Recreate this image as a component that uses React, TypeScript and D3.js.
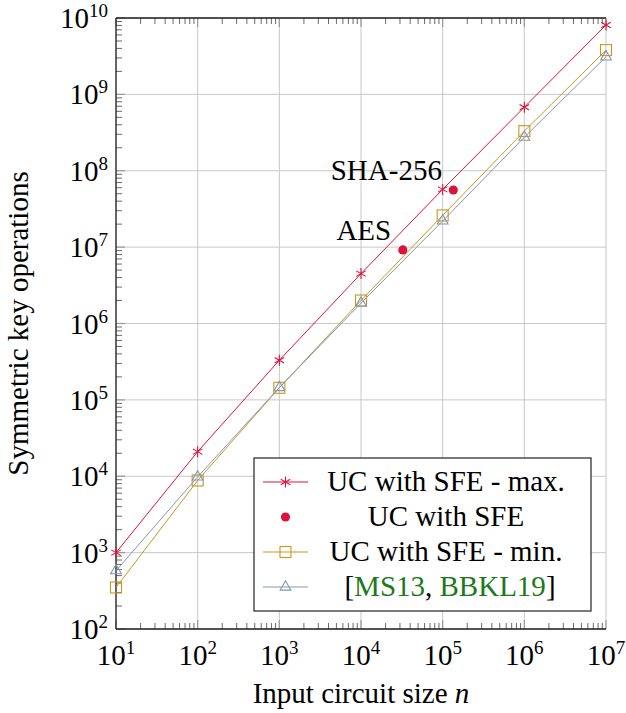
import React from "react";
import * as d3 from "d3";

const sizes = [1e1, 1e2, 1e3, 1e4, 1e5, 1e6, 1e7];
const maxOps = [1.0e3, 2.1e4, 3.3e5, 4.5e6, 5.7e7, 6.8e8, 8.1e9];
const minOps = [3.5e2, 8.8e3, 1.44e5, 2.0e6, 2.6e7, 3.3e8, 3.8e9];
const refOps = [5.8e2, 9.8e3, 1.45e5, 1.85e6, 2.2e7, 2.75e8, 3.1e9];
const sfeNames = ["AES", "SHA-256"];
const sfeSizes = [3.25e4, 1.35e5];
const sfeOps = [9.2e6, 5.6e7];
const xTickExps = [1, 2, 3, 4, 5, 6, 7];
const yTickExps = [2, 3, 4, 5, 6, 7, 8, 9, 10];

const RED = "#DC143C";
const ORANGE = "#C9971F";
const BLUE = "#8797AE";
const GREEN = "#1B7A1B";
const FONT = "Liberation Serif, serif";

const L = 116, R = 606, T = 18, B = 629;

function starPath(cx: number, cy: number, r: number) {
  let d = "";
  for (let i = 0; i < 3; i++) {
    const a = (Math.PI / 3) * i + Math.PI / 2;
    d += `M${cx + r * Math.cos(a)},${cy - r * Math.sin(a)}L${cx - r * Math.cos(a)},${cy + r * Math.sin(a)}`;
  }
  return d;
}

function Marker({ kind, x, y }: { kind: string; x: number; y: number }) {
  if (kind === "star") return <path d={starPath(x, y, 5.5)} stroke={RED} strokeWidth={1.1} fill="none" />;
  if (kind === "square")
    return <rect x={x - 5.5} y={y - 5.5} width={11} height={11} fill="none" stroke={ORANGE} strokeWidth={1.1} />;
  if (kind === "tri") {
    const r = 6.2;
    return (
      <path
        d={`M${x},${y - r}L${x + r * 0.87},${y + r * 0.5}L${x - r * 0.87},${y + r * 0.5}Z`}
        fill="none"
        stroke={BLUE}
        strokeWidth={1.1}
      />
    );
  }
  return <circle cx={x} cy={y} r={4.6} fill={RED} />;
}

function Pow({ x, y, exp, anchor }: { x: number; y: number; exp: number; anchor: "start" | "middle" | "end" }) {
  return (
    <text x={x} y={y} textAnchor={anchor} fontFamily={FONT} fontSize={29} fill="#000">
      10
      <tspan fontSize={19} dy={-11}>
        {exp}
      </tspan>
    </text>
  );
}

export default function App() {
  const x = d3.scaleLog().domain([1e1, 1e7]).range([L, R]);
  const y = d3.scaleLog().domain([1e2, 1e10]).range([B, T]);
  const line = d3
    .line<[number, number]>()
    .x((d) => x(d[0]))
    .y((d) => y(d[1]));

  const minorX: number[] = [];
  for (let e = 1; e < 7; e++) for (let k = 2; k <= 9; k++) minorX.push(k * Math.pow(10, e));
  const minorY: number[] = [];
  for (let e = 2; e < 10; e++) for (let k = 2; k <= 9; k++) minorY.push(k * Math.pow(10, e));

  const series = [
    { vals: maxOps, color: RED, kind: "star" },
    { vals: minOps, color: ORANGE, kind: "square" },
    { vals: refOps, color: BLUE, kind: "tri" },
  ];

  const legendRows = [
    { kind: "star", color: RED, line: true, label: "UC with SFE - max." },
    { kind: "dot", color: RED, line: false, label: "UC with SFE" },
    { kind: "square", color: ORANGE, line: true, label: "UC with SFE - min." },
    { kind: "tri", color: BLUE, line: true, label: "ref" },
  ];
  const lgX = 254, lgY = 458, lgW = 337, lgH = 153;

  return (
    <svg width={626} height={713} style={{ position: "absolute", left: 0, top: 0 }}>
      <rect width={626} height={713} fill="#fff" />
      {xTickExps.map((e) => (
        <line key={"gx" + e} x1={x(Math.pow(10, e))} x2={x(Math.pow(10, e))} y1={T} y2={B} stroke="#c8c8c8" strokeWidth={1} />
      ))}
      {yTickExps.map((e) => (
        <line key={"gy" + e} x1={L} x2={R} y1={y(Math.pow(10, e))} y2={y(Math.pow(10, e))} stroke="#c8c8c8" strokeWidth={1} />
      ))}
      {minorX.map((v, i) => (
        <g key={"mx" + i}>
          <line x1={x(v)} x2={x(v)} y1={B} y2={B - 6} stroke="#444" strokeWidth={0.8} />
          <line x1={x(v)} x2={x(v)} y1={T} y2={T + 6} stroke="#444" strokeWidth={0.8} />
        </g>
      ))}
      {minorY.map((v, i) => (
        <line key={"my" + i} x1={L} x2={L + 6} y1={y(v)} y2={y(v)} stroke="#444" strokeWidth={0.8} />
      ))}
      {xTickExps.map((e) => (
        <g key={"tx" + e}>
          <line x1={x(Math.pow(10, e))} x2={x(Math.pow(10, e))} y1={B} y2={B - 9} stroke="#999" strokeWidth={1.2} />
          <line x1={x(Math.pow(10, e))} x2={x(Math.pow(10, e))} y1={T} y2={T + 9} stroke="#999" strokeWidth={1.2} />
        </g>
      ))}
      {yTickExps.map((e) => (
        <line key={"ty" + e} x1={L} x2={L + 9} y1={y(Math.pow(10, e))} y2={y(Math.pow(10, e))} stroke="#999" strokeWidth={1.2} />
      ))}
      <line x1={L} x2={R} y1={B} y2={B} stroke="#222" strokeWidth={1.3} />
      <line x1={L} x2={R} y1={T} y2={T} stroke="#222" strokeWidth={1.3} />
      <line x1={L} x2={L} y1={T} y2={B} stroke="#222" strokeWidth={1.3} />

      {series.map((s, si) => (
        <g key={"s" + si}>
          <path d={line(sizes.map((n, i) => [n, s.vals[i]] as [number, number])) || ""} fill="none" stroke={s.color} strokeWidth={1} />
          {sizes.map((n, i) => (
            <Marker key={i} kind={s.kind} x={x(n)} y={y(s.vals[i])} />
          ))}
        </g>
      ))}
      {sfeSizes.map((n, i) => (
        <Marker key={"sfe" + i} kind="dot" x={x(n)} y={y(sfeOps[i])} />
      ))}
      {sfeNames.map((name, i) => (
        <text
          key={"lab" + i}
          x={x(sfeSizes[i]) - (i === 0 ? 39 : 67)}
          y={y(sfeOps[i]) - 10}
          textAnchor="middle"
          fontFamily={FONT}
          fontSize={29}
        >
          {name}
        </text>
      ))}

      {xTickExps.map((e) => (
        <Pow key={"xl" + e} x={x(Math.pow(10, e))} y={665} exp={e} anchor="middle" />
      ))}
      {yTickExps.map((e) => (
        <Pow key={"yl" + e} x={108} y={y(Math.pow(10, e)) + 10} exp={e} anchor="end" />
      ))}

      <text x={(L + R) / 2} y={703} textAnchor="middle" fontFamily={FONT} fontSize={29}>
        Input circuit size <tspan fontStyle="italic">n</tspan>
      </text>
      <text
        transform={`translate(28, ${(T + B) / 2}) rotate(-90)`}
        textAnchor="middle"
        fontFamily={FONT}
        fontSize={29}
      >
        Symmetric key operations
      </text>

      <rect x={lgX} y={lgY} width={lgW} height={lgH} fill="#fff" stroke="#333" strokeWidth={1.3} />
      {legendRows.map((r, i) => {
        const cy = lgY + 24 + i * 35;
        return (
          <g key={"lg" + i}>
            {r.line && <line x1={263} x2={308} y1={cy} y2={cy} stroke={r.color} strokeWidth={1} />}
            <Marker kind={r.kind} x={285.5} y={cy} />
            {r.label === "ref" ? (
              <text x={450} y={cy + 9} textAnchor="middle" fontFamily={FONT} fontSize={29}>
                [<tspan fill={GREEN}>MS13</tspan>, <tspan fill={GREEN}>BBKL19</tspan>]
              </text>
            ) : (
              <text x={446} y={cy + 9} textAnchor="middle" fontFamily={FONT} fontSize={29}>
                {r.label}
              </text>
            )}
          </g>
        );
      })}
    </svg>
  );
}
